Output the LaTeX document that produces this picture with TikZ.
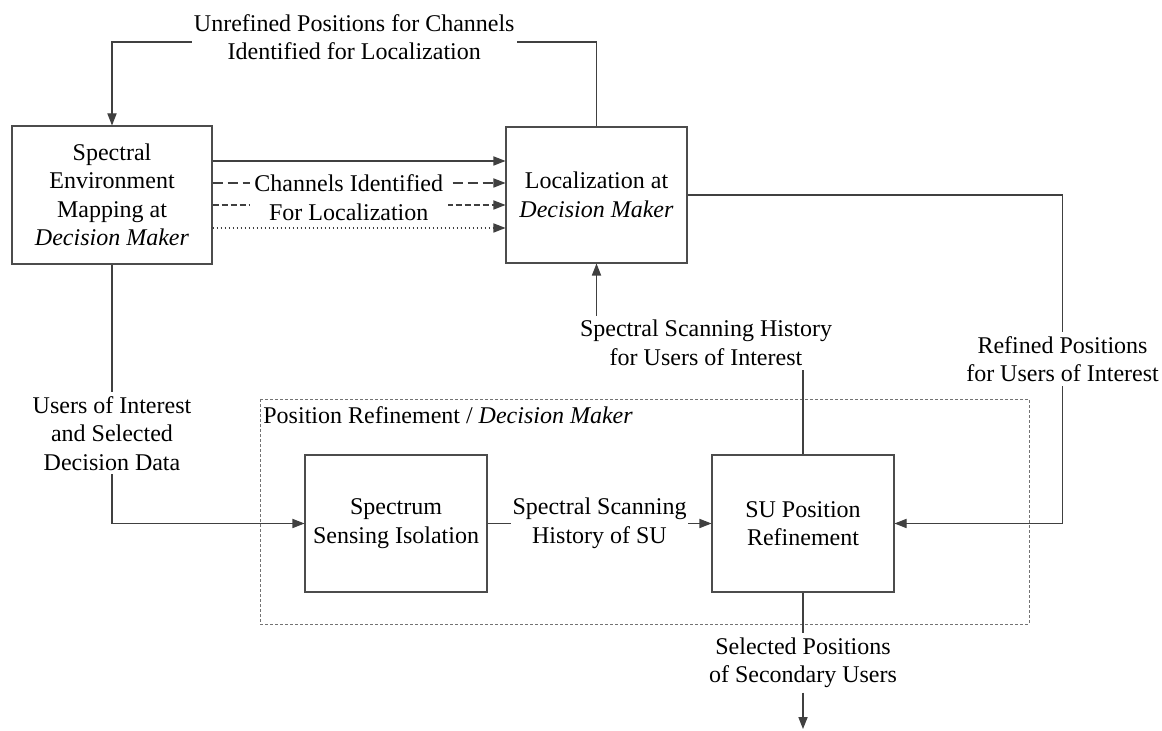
\documentclass[tikz,border=0pt]{standalone}
\usepackage{fontspec}
\setmainfont{Liberation Serif}
\usetikzlibrary{arrows.meta,shadows}

\tikzset{
    blk/.style={draw=black!70, fill=white, line width=0.55pt, align=center,
        inner xsep=2pt, minimum width=91pt, minimum height=68.5pt,
        drop shadow={shadow xshift=0.7pt, shadow yshift=-0.7pt, fill=black!25}},
    wire/.style={draw=black!75, line width=0.55pt},
    flow/.style={wire, -{Triangle[length=6pt,width=4.6pt]}},
    lbl/.style={fill=white, align=center, inner xsep=1pt, inner ysep=2pt},
}

\begin{document}
\begin{tikzpicture}[x=0.5pt, y=-0.5pt, font=\fontsize{12pt}{14.25pt}\selectfont]
        \useasboundingbox (0,0) rectangle (1162,731);
        % group frame
        \draw[black!55, line width=0.4pt, dash pattern=on 1.5pt off 1pt] (260,399) rectangle (1029,624);
        \node (grp) at (263,415) [anchor=west, inner sep=0pt] {Position Refinement / \textit{Decision Maker}};

        \node (sem) at (112,195) [blk, minimum width=100pt, minimum height=69pt] {Spectral\\Environment\\Mapping at\\\textit{Decision Maker}};
        \node (loc) at (596.5,195) [blk, minimum width=90.5pt, minimum height=68pt] {Localization at\\\textit{Decision Maker}};
        \node (ssi) at (396,523.5) [blk] {Spectrum\\Sensing Isolation};
        \node (sur) at (803,523.5) [blk] {SU Position\\Refinement};

        \draw[flow] (loc.north) |- node[lbl, pos=0.75, yshift=2.5pt] (unref) {Unrefined Positions for Channels\\Identified for Localization} (sem.north |- 0,42) -- (sem.north);

        \draw[flow] ([yshift=17pt]sem.east) -- ([yshift=17pt]loc.west);
        \draw[flow, dash pattern=on 5pt off 2.5pt] ([yshift=6pt]sem.east) -- node[lbl, pos=0.465, minimum width=99pt, inner ysep=0.5pt] (chid) {Channels Identified} ([yshift=6pt]loc.west);
        \draw[flow, dash pattern=on 3pt off 1.5pt] ([yshift=-5pt]sem.east) -- node[lbl, pos=0.465, yshift=-3.5pt, minimum width=99pt, inner ysep=1pt] (forloc) {For Localization} ([yshift=-5pt]loc.west);
        \draw[flow, dash pattern=on 0.5pt off 1.5pt] ([yshift=-16.5pt]sem.east) -- ([yshift=-16.5pt]loc.west);

        \draw[flow] (sem.south) |- node[lbl, pos=0.326] (uoi) {Users of Interest\\and Selected\\Decision Data} (ssi.west);
        \draw[flow] (ssi.east) -- node[lbl] (ssh) {Spectral Scanning\\History of SU} (sur.west);
        \draw[flow] (loc.east) -| node[lbl, pos=0.75] (rfp) {Refined Positions\\for Users of Interest} ([xshift=84pt]sur.east) -- (sur.east);

        \node (hist) at (706,343) [lbl] {Spectral Scanning History\\for Users of Interest};
        \draw[wire] (sur.north) -- (sur.north |- hist.south);
        \draw[flow] (loc.south |- hist.north) -- (loc.south);

        \node (sel) at (803,663) [lbl] {Selected Positions\\of Secondary Users};
        \coordinate (out) at (803,729);
        \draw[wire] (sur.south) -- (sel.north);
        \draw[flow] (sel.south) -- (out);
\end{tikzpicture}
\end{document}
